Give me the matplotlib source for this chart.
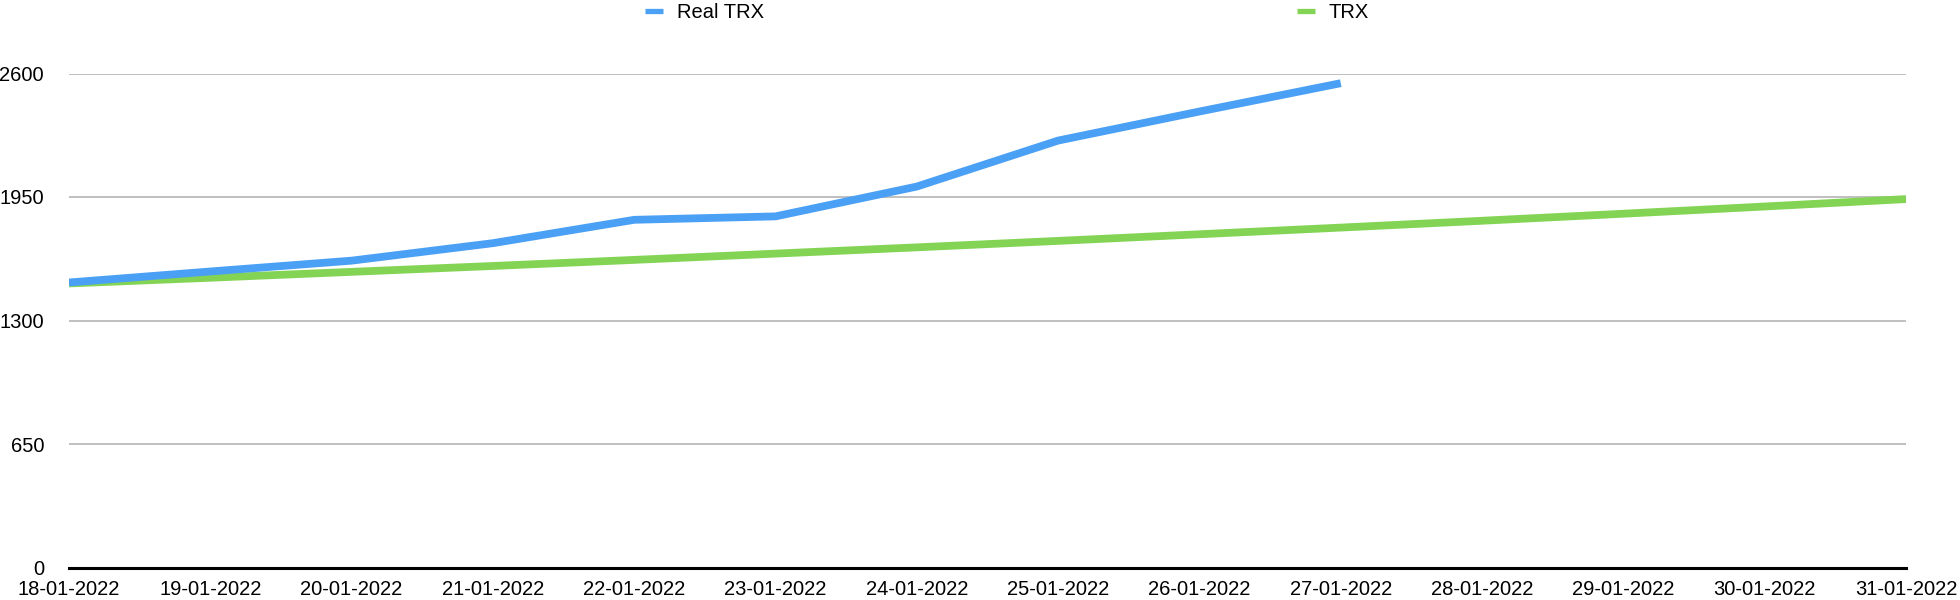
import matplotlib
matplotlib.use("Agg")
import matplotlib.pyplot as plt

# dates on the x axis
dates = ["18-01-2022", "19-01-2022", "20-01-2022", "21-01-2022", "22-01-2022",
         "23-01-2022", "24-01-2022", "25-01-2022", "26-01-2022", "27-01-2022",
         "28-01-2022", "29-01-2022", "30-01-2022", "31-01-2022"]

# observed price, only up to 27-01
real_trx = [1500, 1558, 1615, 1707, 1830, 1848, 2005, 2247, 2400, 2549]

# projected line over the whole range
trx = [1495, 1525, 1556, 1587, 1619, 1652, 1685, 1719, 1754, 1789,
       1825, 1862, 1900, 1939]

y_ticks = [0, 650, 1300, 1950, 2600]

BLUE = "#4AA0F5"
GREEN = "#83D455"

plt.rcParams["font.family"] = ["Liberation Sans", "DejaVu Sans"]
plt.rcParams["font.size"] = 14.5

fig = plt.figure(figsize=(19.6, 6), dpi=100)
ax = fig.add_axes([69 / 1960, 1 - 567.5 / 600, (1906 - 69) / 1960, (567.5 - 73.5) / 600])

x_all = list(range(len(dates)))
l_trx, = ax.plot(x_all, trx, color=GREEN, lw=5.6, solid_capstyle="butt", label="TRX")
l_real, = ax.plot(x_all[:len(real_trx)], real_trx, color=BLUE, lw=5.6,
                  solid_capstyle="butt", label="Real TRX")

ax.set_xlim(0, len(dates) - 1)
ax.set_ylim(0, 2600)
ax.set_xticks(x_all)
ax.set_xticklabels(dates)
ax.set_yticks(y_ticks)
ax.set_yticklabels([str(v) for v in y_ticks])
ax.tick_params(axis="both", length=0)
ax.tick_params(axis="y", pad=18)
ax.tick_params(axis="x", pad=9)

ax.grid(axis="y", color="#B4B4B4", lw=1.2)
ax.set_axisbelow(True)
for s in ["top", "right", "left"]:
    ax.spines[s].set_visible(False)
ax.spines["bottom"].set_color("black")
ax.spines["bottom"].set_linewidth(2.2)
ax.spines["bottom"].set_zorder(5)

leg = fig.legend([l_real, l_trx], ["Real TRX", "TRX"], loc="center",
                 bbox_to_anchor=(1007 / 1960, 1 - 13 / 600), ncol=2, frameon=False,
                 handlelength=0.9, handletextpad=0.65, columnspacing=26.5,
                 borderpad=0, borderaxespad=0)
for h in leg.get_lines():
    h.set_linewidth(3.8)

fig.savefig("out.png", dpi=100)
